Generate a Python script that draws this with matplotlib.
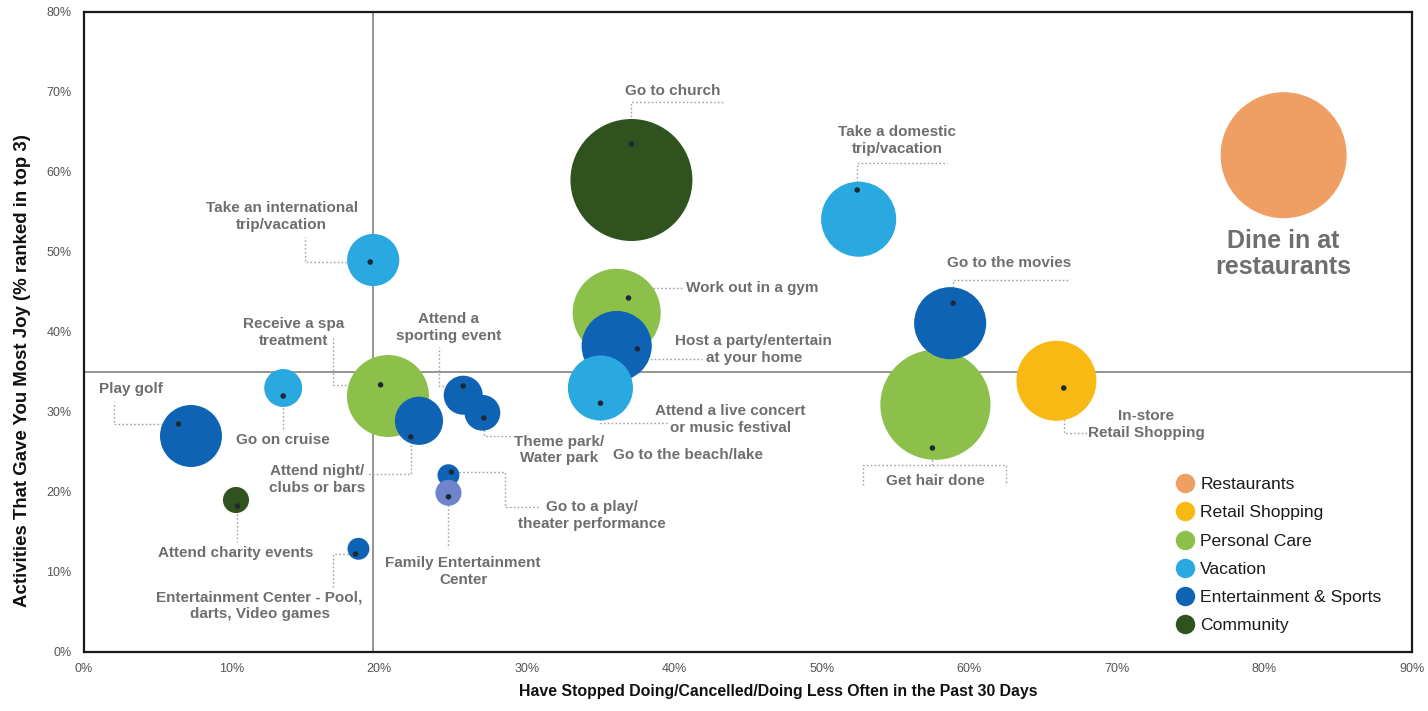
import math

import matplotlib

matplotlib.use("Agg")
import matplotlib.pyplot as plt
from matplotlib.lines import Line2D
from matplotlib.ticker import MultipleLocator, PercentFormatter

plt.rcParams["font.family"] = ["Liberation Sans", "DejaVu Sans"]

NAN = math.nan

# one entry per activity, in drawing order (later bubbles sit on top)
activities = [
    "Dine in at restaurants",
    "Go to church",
    "Take a domestic trip/vacation",
    "Take an international trip/vacation",
    "Work out in a gym",
    "Host a party/entertain at your home",
    "Attend a live concert or music festival",
    "Get hair done",
    "Go to the movies",
    "In-store Retail Shopping",
    "Receive a spa treatment",
    "Attend a sporting event",
    "Theme park/Water park",
    "Attend night clubs or bars",
    "Go on cruise",
    "Play golf",
    "Attend charity events",
    "Entertainment Center - Pool, darts, Video games",
    "Go to a play/theater performance",
    "Family Entertainment Center",
]
category = [
    "Restaurants", "Community", "Vacation", "Vacation", "Personal Care",
    "Entertainment & Sports", "Vacation", "Personal Care", "Entertainment & Sports",
    "Retail Shopping", "Personal Care", "Entertainment & Sports",
    "Entertainment & Sports", "Entertainment & Sports", "Vacation",
    "Entertainment & Sports", "Community", "Entertainment & Sports",
    "Entertainment & Sports", "Entertainment & Sports",
]
# % stopped / cancelled (x) and % most joy (y), marked by the small dots
stopped_pct = [NAN, 37.1, 52.4, 19.4, 36.9, 37.5, 35.0, 57.5, 58.9, 66.4,
               20.1, 25.7, 27.1, 22.15, 13.5, 6.4, 10.4, 18.4, 24.9, 24.7]
joy_pct = [NAN, 63.5, 57.75, 48.75, 44.25, 37.9, 31.1, 25.5, 43.6, 33.0,
           33.4, 33.25, 29.25, 26.9, 32.0, 28.5, 18.25, 12.25, 22.5, 19.4]
# bubble centres and relative bubble sizes
bubble_x = [81.3, 37.1, 52.5, 19.6, 36.1, 36.1, 35.0, 57.7, 58.7, 65.9,
            20.6, 25.7, 27.0, 22.7, 13.5, 7.25, 10.3, 18.6, 24.7, 24.7]
bubble_y = [62.1, 59.0, 54.1, 49.0, 42.4, 38.25, 33.0, 30.9, 41.1, 33.9,
            32.0, 32.1, 29.9, 28.9, 33.0, 27.0, 19.0, 12.9, 22.1, 19.9]
bubble_size = [39.7, 37.2, 14.1, 6.8, 19.4, 12.3, 10.6, 30.3, 13.0, 16.0,
               16.8, 3.8, 3.2, 5.8, 3.6, 9.6, 1.7, 1.2, 1.2, 1.7]

legend_order = ["Restaurants", "Retail Shopping", "Personal Care", "Vacation",
                "Entertainment & Sports", "Community"]

category_colors = {
    "Restaurants": "#EF9E64",
    "Retail Shopping": "#F8B914",
    "Personal Care": "#8CC04B",
    "Vacation": "#2AA8E0",
    "Entertainment & Sports": "#0E63B5",
    "Community": "#2F521F",
}
special_colors = {"Family Entertainment Center": "#6F85CB"}

# callout text, position, alignment and leader path steps from the dot
callouts = [
    ("Go to church", "Go to church", (39.9, 70.1), "center", [("v", 68.75), ("h", 43.4)]),
    ("Take a domestic trip/vacation", "Take a domestic\ntrip/vacation", (55.1, 63.9), "center",
     [("v", 61.1), ("h", 58.5)]),
    ("Take an international trip/vacation", "Take an international\ntrip/vacation", (13.4, 54.4),
     "center", [("h", 15.0), ("v", 51.9)]),
    ("Work out in a gym", "Work out in a gym", (40.8, 45.5), "left", [("v", 45.5), ("h", 40.6)]),
    ("Host a party/entertain at your home", "Host a party/entertain\nat your home", (45.4, 37.8),
     "center", [("v", 36.6), ("h", 41.9)]),
    ("Attend a live concert or music festival", "Attend a live concert\nor music festival",
     (43.8, 29.1), "center", [("v", 28.6), ("h", 39.5)]),
    (None, "Go to the beach/lake", (40.9, 24.6), "center", []),
    ("Theme park/Water park", "Theme park/\nWater park", (32.2, 25.25), "center",
     [("v", 27.0), ("h", 29.0)]),
    ("Attend a sporting event", "Attend a\nsporting event", (24.7, 40.6), "center",
     [("h", 24.05), ("v", 38.1)]),
    ("Receive a spa treatment", "Receive a spa\ntreatment", (14.2, 39.9), "center",
     [("h", 16.9), ("v", 39.4)]),
    ("Play golf", "Play golf", (3.2, 32.9), "center", [("h", 2.0), ("v", 31.25)]),
    ("Go on cruise", "Go on cruise", (13.5, 26.5), "center", [("v", 27.75)]),
    ("Attend night clubs or bars", "Attend night/\nclubs or bars", (15.8, 21.6), "center",
     [("v", 22.25), ("h", 19.1)]),
    ("Attend charity events", "Attend charity events", (10.3, 12.4), "center", [("v", 13.75)]),
    ("Entertainment Center - Pool, darts, Video games",
     "Entertainment Center - Pool,\ndarts, Video games", (11.9, 5.8), "center",
     [("h", 16.9), ("v", 8.1)]),
    ("Family Entertainment Center", "Family Entertainment\nCenter", (25.7, 10.1), "center",
     [("v", 13.0)]),
    ("Go to a play/theater performance", "Go to a play/\ntheater performance", (34.4, 17.1),
     "center", [("h", 28.5), ("v", 18.1), ("h", 30.9)]),
    ("Go to the movies", "Go to the movies", (62.7, 48.6), "center", [("v", 46.5), ("h", 66.7)]),
    ("In-store Retail Shopping", "In-store\nRetail Shopping", (72.0, 28.4), "center",
     [("v", 27.4), ("h", 68.0)]),
    ("Get hair done", "Get hair done", (57.7, 21.4), "center", [("v", 23.4)]),
]

DPI = 100
LABEL_GREY = "#6E6E6E"
LEADER_STYLE = dict(color="#A3A3A3", lw=1.0, linestyle=(0, (1.2, 1.6)), zorder=1)

fig = plt.figure(figsize=(14.28, 7.11), dpi=DPI)
ax = fig.add_axes([84 / 1428, 59 / 711, 1328 / 1428, 640 / 711])
ax.set_xlim(0, 90)
ax.set_ylim(0, 80)

# quadrant split lines
ax.axvline(19.6, color="#8C8C8C", lw=1.3, zorder=0.5)
ax.axhline(35.0, color="#8C8C8C", lw=1.3, zorder=0.5)

colors = [special_colors.get(name, category_colors[cat]) for name, cat in zip(activities, category)]
# size unit -> marker area in pt^2 (size 1 == 10 px radius)
area_scale = (2 * 10 * 72 / DPI) ** 2
for bx, by, size, col in zip(bubble_x, bubble_y, bubble_size, colors):
    ax.scatter(bx, by, s=size * area_scale, color=col, edgecolors="none", zorder=2)
ax.scatter(stopped_pct, joy_pct, s=16, color="#1D2A36", edgecolors="none", zorder=4)

# callouts with dotted elbow leaders
for key, text, (tx, ty), ha, steps in callouts:
    ax.text(tx, ty, text, ha=ha, va="center", fontsize=11, fontweight="bold",
            color=LABEL_GREY, linespacing=1.25, zorder=5)
    if key is None:
        continue
    i = activities.index(key)
    xs, ys = [stopped_pct[i]], [joy_pct[i]]
    for direction, value in steps:
        if direction == "h":
            xs.append(value)
            ys.append(ys[-1])
        else:
            xs.append(xs[-1])
            ys.append(value)
    ax.plot(xs, ys, **LEADER_STYLE)

# bracket above "Get hair done"
ax.plot([52.8, 52.8, 62.5, 62.5], [20.9, 23.4, 23.4, 20.9], **LEADER_STYLE)

ax.text(bubble_x[0], 49.7, "Dine in at\nrestaurants", ha="center", va="center",
        fontsize=18, fontweight="bold", color=LABEL_GREY, linespacing=1.1, zorder=5)

ax.xaxis.set_major_locator(MultipleLocator(10))
ax.yaxis.set_major_locator(MultipleLocator(10))
ax.xaxis.set_major_formatter(PercentFormatter(100, decimals=0))
ax.yaxis.set_major_formatter(PercentFormatter(100, decimals=0))
ax.tick_params(length=0, labelsize=9, labelcolor="#555555")
ax.tick_params(axis="x", pad=8)
ax.tick_params(axis="y", pad=9)
for spine in ax.spines.values():
    spine.set_linewidth(1.6)
    spine.set_color("#1A1A1A")

ax.set_xlabel("Have Stopped Doing/Cancelled/Doing Less Often in the Past 30 Days",
              fontsize=11.4, fontweight="bold", color="#111111")
ax.xaxis.set_label_coords(0.523, -0.05)
ax.set_ylabel("Activities That Gave You Most Joy (% ranked in top 3)",
              fontsize=13.4, fontweight="bold", color="#111111")
ax.yaxis.set_label_coords(-0.04, 0.44)

handles = [Line2D([], [], marker="o", linestyle="none", markersize=14,
                  markerfacecolor=category_colors[c], markeredgecolor="none", label=c)
           for c in legend_order]
ax.legend(handles=handles, loc="upper left", bbox_to_anchor=(1160 / 1428, 1 - 463 / 711),
          bbox_transform=fig.transFigure, frameon=False, fontsize=12.6,
          labelspacing=0.74, handletextpad=0.3, handlelength=1.2, borderpad=0.3,
          labelcolor="#1A1A1A")

fig.savefig("out.png", dpi=DPI)
